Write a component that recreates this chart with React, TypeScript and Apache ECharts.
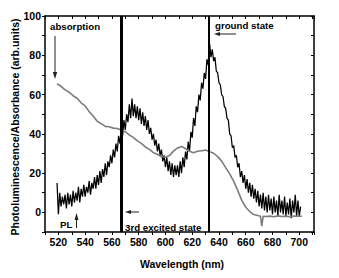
import React, { useEffect, useRef } from 'react';
import * as echarts from 'echarts';

// PL spectrum, sampled every 1 nm starting at 519 nm
const plStart = 519;
const plStep = 1;
const plValues = [
  15, -1, 10, 3, 8, 4, 9, 2, 10, 4,
  9, 3, 11, 5, 10, 6, 13, 5, 12, 8,
  14, 8, 13, 10, 16, 9, 15, 12, 18, 12,
  19, 14, 21, 15, 22, 18, 25, 19, 26, 23,
  29, 25, 32, 28, 35, 31, 39, 35, 42, 39,
  47, 42, 50, 46, 55, 48, 58, 49, 55, 48,
  54, 47, 53, 45, 51, 44, 49, 42, 47, 40,
  43, 37, 40, 34, 37, 31, 35, 29, 32, 26,
  29, 23, 28, 21, 26, 19, 25, 18, 24, 19,
  24, 18, 26, 20, 28, 23, 31, 27, 36, 31,
  41, 38, 48, 44, 54, 51, 60, 57, 66, 63,
  71, 68, 78, 75, 86, 79, 83, 77, 79, 72,
  71, 66, 65, 60, 59, 54, 53, 48, 47, 40,
  39, 33, 34, 28, 29, 23, 25, 18, 21, 15,
  19, 12, 17, 10, 15, 8, 14, 7, 12, 5,
  11, 3, 9, 2, 10, 1, 8, 0, 9, 1,
  7, -1, 8, 0, 6, -2, 9, 0, 6, -1,
  8, -2, 5, -1, 7, -3, 6, 0, 9, -2,
  6, -2, 3,
];

// Absorption spectrum
const absWavelength = [
  519, 522, 525, 528, 531, 534, 537, 540, 543, 546, 549, 552, 555, 558, 561, 564,
  567, 570, 573, 576, 579, 582, 585, 588, 591, 594, 597, 600, 603, 606, 609, 612,
  615, 618, 621, 624, 627, 630, 633, 636, 639, 642, 645, 648, 651, 654, 657, 660,
  663, 666, 669, 671, 672, 673, 675, 678, 681, 684, 687, 690, 693, 696, 699, 702,
];
const absValues = [
  65.5, 64.2, 62.4, 61.2, 59.4, 58.1, 55.8, 54.2, 51.3, 49.1, 46.4, 45.2, 43.8, 43.6, 42.9, 42.7,
  41.9, 41.1, 39.4, 38.2, 36.4, 35.1, 33.3, 32.1, 30.4, 29.6, 28.3, 28.1, 28.9, 31.2, 32.8, 33.6,
  32.4, 31.1, 30.4, 31.1, 31.4, 31.7, 30.9, 30.1, 28.4, 26.1, 22.8, 19.6, 15.8, 11.2, 6.1, 2.6,
  0.4, -1.1, -1.6, -2, -7, -2, -2.1, -1.9, -2.2, -1.8, -2.1, -1.9, -2.2, -1.9, -2, -2,
];

// Vertical state markers (nm)
const stateLines = [567, 632];
const stateLineWidths = [3, 2];

const xMin = 510;
const xMax = 711;
const yMin = -10;
const yMax = 100;
const xLabelStep = 20;
const yLabelStep = 20;

const FONT = '"Liberation Sans", Arial, Helvetica, sans-serif';

export default function App() {
  const ref = useRef<HTMLDivElement>(null);

  useEffect(() => {
    if (!ref.current) return;
    const chart = echarts.init(ref.current, undefined, { renderer: 'svg' });

    const plData = plValues.map((v, i) => [plStart + i * plStep, v]);
    const absData = absWavelength.map((w, i) => [w, absValues[i]]);

    const axisLine = { show: true, onZero: false, lineStyle: { color: '#000', width: 1.5 } };
    const tickStyle = { color: '#000', width: 1 };
    const labelStyle = {
      color: '#000',
      fontWeight: 'bold' as const,
      fontSize: 10.5,
      fontFamily: FONT,
    };

    const textEl = (text: string, x: number, y: number, size = 9.7) => ({
      type: 'text',
      x,
      y,
      silent: true,
      style: {
        text,
        fill: '#000',
        fontSize: size,
        fontWeight: 'bold',
        fontFamily: FONT,
        textAlign: 'left',
        textVerticalAlign: 'middle',
      },
    });
    const lineEl = (x1: number, y1: number, x2: number, y2: number) => ({
      type: 'line',
      silent: true,
      shape: { x1, y1, x2, y2 },
      style: { stroke: '#222', lineWidth: 1 },
    });
    const headEl = (pts: number[][]) => ({
      type: 'polygon',
      silent: true,
      shape: { points: pts },
      style: { fill: '#222' },
    });

    chart.setOption({
      animation: false,
      backgroundColor: '#fff',
      grid: { left: 45, right: 25, top: 16, bottom: 46 },
      xAxis: [
        {
          type: 'value',
          min: xMin,
          max: xMax,
          interval: 10,
          position: 'bottom',
          axisLine,
          axisTick: { show: true, inside: false, length: 3, lineStyle: tickStyle },
          axisLabel: {
            ...labelStyle,
            margin: 4,
            formatter: (v: number) => (v % xLabelStep === 0 ? String(v) : ''),
          },
          splitLine: { show: false },
        },
        {
          type: 'value',
          min: xMin,
          max: xMax,
          interval: 10,
          position: 'top',
          axisLine,
          axisTick: { show: true, inside: true, length: 3, lineStyle: tickStyle },
          axisLabel: { show: false },
          splitLine: { show: false },
        },
      ],
      yAxis: [
        {
          type: 'value',
          min: yMin,
          max: yMax,
          interval: 10,
          position: 'left',
          axisLine,
          axisTick: { show: true, inside: false, length: 3, lineStyle: tickStyle },
          axisLabel: {
            ...labelStyle,
            margin: 4,
            formatter: (v: number) => (v % yLabelStep === 0 ? String(v) : ''),
          },
          splitLine: { show: false },
        },
        {
          type: 'value',
          min: yMin,
          max: yMax,
          interval: 10,
          position: 'right',
          axisLine,
          axisTick: { show: true, inside: true, length: 3, lineStyle: tickStyle },
          axisLabel: { show: false },
          splitLine: { show: false },
        },
      ],
      series: [
        {
          name: 'PL',
          type: 'line',
          data: plData,
          showSymbol: false,
          symbol: 'none',
          lineStyle: { color: '#000', width: 1.25 },
          z: 2,
          markLine: {
            silent: true,
            symbol: 'none',
            label: { show: false },
            data: stateLines.map((x, i) => ({
              xAxis: x,
              lineStyle: { color: '#000', width: stateLineWidths[i], type: 'solid' },
            })),
          },
        },
        {
          name: 'absorption',
          type: 'line',
          data: absData,
          showSymbol: false,
          symbol: 'none',
          lineStyle: { color: '#7d7d7d', width: 1.6 },
          z: 3,
        },
      ],
      graphic: [
        {
          type: 'text',
          x: 15,
          y: 127,
          rotation: Math.PI / 2,
          silent: true,
          style: {
            text: 'Photoluminescence/Absorbance (arb.units)',
            fill: '#000',
            fontSize: 10.5,
            fontWeight: 'bold',
            fontFamily: FONT,
            textAlign: 'center',
            textVerticalAlign: 'middle',
          },
        },
        {
          type: 'text',
          x: 182,
          y: 264,
          silent: true,
          style: {
            text: 'Wavelength (nm)',
            fill: '#000',
            fontSize: 10.5,
            fontWeight: 'bold',
            fontFamily: FONT,
            textAlign: 'center',
            textVerticalAlign: 'middle',
          },
        },
        textEl('absorption', 50, 26.5),
        lineEl(55, 36, 55, 73),
        headEl([[52.8, 72], [57.2, 72], [55, 79]]),
        textEl('ground state', 215, 25.5),
        lineEl(236, 34, 219, 34),
        headEl([[220, 32], [220, 36], [214, 34]]),
        textEl('PL', 60, 224),
        lineEl(76.5, 228, 76.5, 219),
        headEl([[74.5, 220], [78.5, 220], [76.5, 213]]),
        textEl('3rd excited state', 125, 227),
        lineEl(139, 212, 130, 212),
        headEl([[131, 210], [131, 214], [125, 212]]),
      ],
    });

    return () => {
      chart.dispose();
    };
  }, []);

  return (
    <div
      ref={ref}
      style={{ position: 'fixed', left: 0, top: 0, width: 339, height: 278, background: '#fff' }}
    />
  );
}
